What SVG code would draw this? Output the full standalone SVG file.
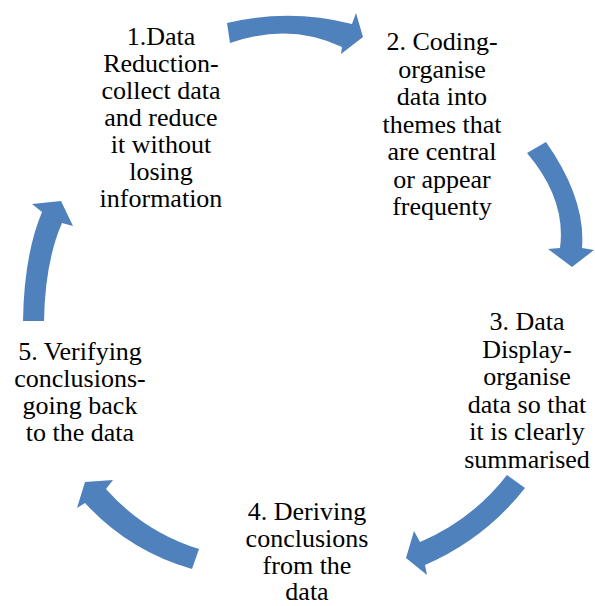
<svg xmlns="http://www.w3.org/2000/svg" width="595" height="606" viewBox="0 0 595 606">
<style>
.arr{fill:#4F81BD;stroke:none}
text{font-family:'Liberation Serif','Times New Roman',serif;font-size:26px;fill:#000;text-anchor:middle}
</style>
<rect width="595" height="606" fill="#fff"/>
<g id="connectors">
<path class="arr" d="M227,23 Q290,8 352,24 L356,13 L363,37 L341,54 L342,47 Q290,22 230,43 Z"/>
<path class="arr" d="M527,153 L546,142 Q586,199 582,248 L594,250 L572,267 L548,249 L560,248 Q566.5,199.5 527,153 Z"/>
<path class="arr" d="M507,475 L525,488 Q485,539 425,565 L427,575 L406,558 L414,531 L420,542 Q472,520 507,475 Z"/>
<path class="arr" d="M199,549 L192,569 Q129,551 85,503 L77,508 L85,482 L113,480 L106,489 Q144,532 199,549 Z"/>
<path class="arr" d="M23,321 Q24,255 42,212 L32,204 L61,201 L73,226 L62,223 Q45,262 44,321 Z"/>
</g>
<g id="node1">
<text x="161" y="45">1.Data</text>
<text x="161" y="72">Reduction-</text>
<text x="161" y="99">collect data</text>
<text x="161" y="126">and reduce</text>
<text x="161" y="153">it without</text>
<text x="161" y="180">losing</text>
<text x="161" y="207">information</text>
</g>
<g id="node2">
<text x="442" y="50">2. Coding-</text>
<text x="442" y="77.5">organise</text>
<text x="442" y="105">data into</text>
<text x="442" y="132.5">themes that</text>
<text x="442" y="160">are central</text>
<text x="442" y="187.5">or appear</text>
<text x="442" y="215">frequenty</text>
</g>
<g id="node3">
<text x="527" y="330">3. Data</text>
<text x="527" y="357.5">Display-</text>
<text x="527" y="385">organise</text>
<text x="527" y="412.5">data so that</text>
<text x="527" y="440">it is clearly</text>
<text x="527" y="467.5">summarised</text>
</g>
<g id="node4">
<text x="307" y="520">4. Deriving</text>
<text x="307" y="547">conclusions</text>
<text x="307" y="574">from the</text>
<text x="307" y="600">data</text>
</g>
<g id="node5">
<text x="80" y="360">5. Verifying</text>
<text x="80" y="387">conclusions-</text>
<text x="80" y="414">going back</text>
<text x="80" y="441">to the data</text>
</g>
</svg>
